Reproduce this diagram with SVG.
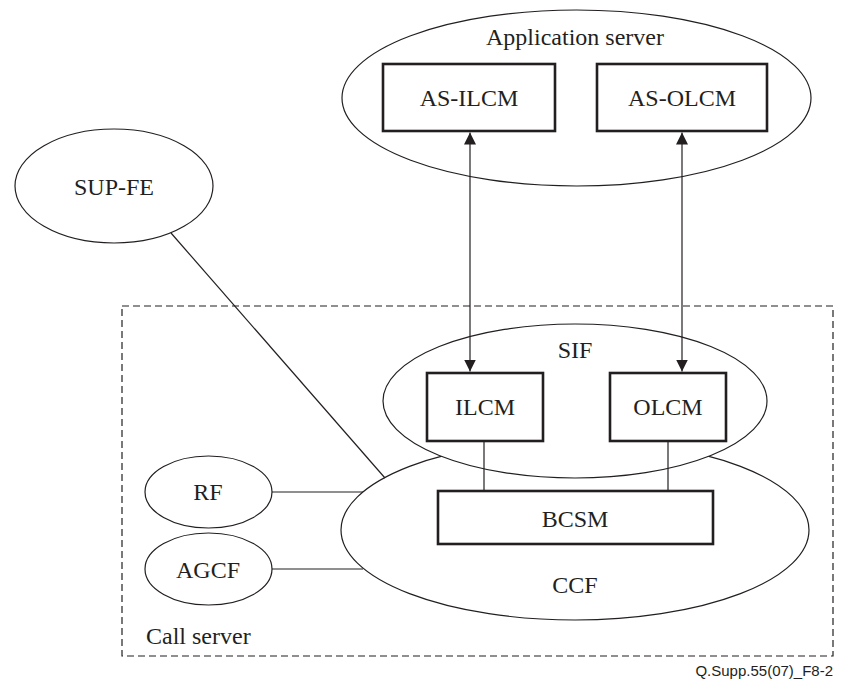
<svg xmlns="http://www.w3.org/2000/svg" width="843" height="680" viewBox="0 0 843 680">
<defs>
<style>
.t{font-family:"Liberation Serif","Times New Roman",serif;font-size:24px;fill:#231f20;text-anchor:middle}
.el{fill:#fff;stroke:#231f20;stroke-width:1.2}
.bx{fill:#fff;stroke:#231f20;stroke-width:2.6}
.ln{stroke:#231f20;stroke-width:1.2;fill:none}
</style>
<marker id="ah" viewBox="0 0 12 12" refX="12" refY="6" markerWidth="12" markerHeight="12" markerUnits="userSpaceOnUse" orient="auto-start-reverse">
<path d="M0,0 L12,6 L0,12 z" fill="#231f20"/>
</marker>
</defs>
<rect width="843" height="680" fill="#fff"/>
<g id="call-server">
<rect x="122" y="306" width="711" height="350" fill="none" stroke="#231f20" stroke-width="1.2" stroke-dasharray="7,4"/>
<text x="146" y="644" class="t" style="text-anchor:start">Call server</text>
</g>
<g id="sup-fe">
<ellipse cx="114" cy="186" rx="99" ry="57" class="el"/>
<text x="114" y="195" class="t">SUP-FE</text>
</g>
<g id="application-server">
<ellipse cx="576.5" cy="98" rx="234.5" ry="88" class="el"/>
<text x="575" y="45" class="t">Application server</text>
</g>
<g id="as-ilcm">
<rect x="383" y="64" width="172" height="67" class="bx"/>
<text x="469" y="106" class="t">AS-ILCM</text>
</g>
<g id="as-olcm">
<rect x="597" y="64" width="170" height="67" class="bx"/>
<text x="682" y="106" class="t">AS-OLCM</text>
</g>
<g id="ccf">
<ellipse cx="575" cy="530" rx="234" ry="90" class="el"/>
<text x="575" y="593" class="t">CCF</text>
</g>
<g id="sif">
<ellipse cx="575" cy="401" rx="192" ry="77" class="el"/>
<text x="575" y="358" class="t">SIF</text>
</g>
<g id="ilcm">
<rect x="427" y="373" width="116" height="68" class="bx"/>
<text x="485" y="415" class="t">ILCM</text>
</g>
<g id="olcm">
<rect x="610" y="373" width="116" height="68" class="bx"/>
<text x="668" y="415" class="t">OLCM</text>
</g>
<g id="bcsm">
<rect x="438" y="491" width="275" height="53" class="bx"/>
<text x="575" y="527" class="t">BCSM</text>
</g>
<g id="rf">
<ellipse cx="208.5" cy="492" rx="63.5" ry="36" class="el"/>
<text x="208" y="500" class="t">RF</text>
</g>
<g id="agcf">
<ellipse cx="208.5" cy="569" rx="63.5" ry="36" class="el"/>
<text x="208" y="578" class="t">AGCF</text>
</g>
<g id="connectors">
<line x1="470" y1="132.5" x2="470" y2="371.5" class="ln" marker-start="url(#ah)" marker-end="url(#ah)"/>
<line x1="682" y1="132.5" x2="682" y2="371.5" class="ln" marker-start="url(#ah)" marker-end="url(#ah)"/>
<line x1="484" y1="442" x2="484" y2="490" class="ln"/>
<line x1="668" y1="442" x2="668" y2="490" class="ln"/>
<line x1="171" y1="233" x2="385" y2="478" class="ln"/>
<line x1="272" y1="492" x2="363" y2="492" class="ln"/>
<line x1="272" y1="569" x2="363" y2="569" class="ln"/>
</g>
<text x="833" y="676" style="font-family:'Liberation Sans',Arial,sans-serif;font-size:15px;fill:#231f20;text-anchor:end">Q.Supp.55(07)_F8-2</text>
</svg>
